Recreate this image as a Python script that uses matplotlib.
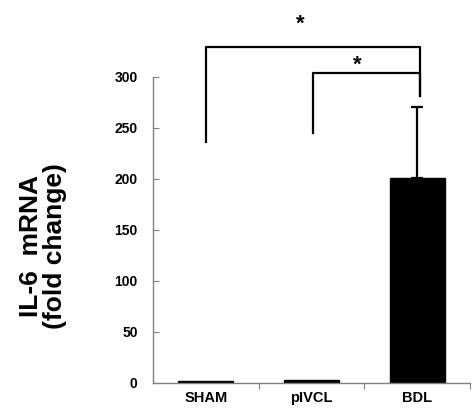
import matplotlib.pyplot as plt

groups = ['SHAM', 'pIVCL', 'BDL']
il6_fold = [1.5, 2.5, 201]
il6_err = [0, 0, 69]
yticks = [0, 50, 100, 150, 200, 250, 300]

plt.rcParams['font.family'] = ['Liberation Sans', 'DejaVu Sans']
plt.rcParams['font.weight'] = 'bold'

fig = plt.figure(figsize=(4.72, 4.12), dpi=100)
ax = fig.add_axes([0.324, 0.0704, 0.672, 0.743])

x = list(range(len(groups)))
ax.bar(x, il6_fold, width=0.52, color='black', edgecolor='black', zorder=2)
# one-sided error bar on BDL
ax.errorbar(x[2], il6_fold[2], yerr=[[0], [il6_err[2]]], fmt='none',
            ecolor='black', elinewidth=1.6, capsize=4, capthick=1.6, zorder=1)

ax.set_xlim(-0.5, 2.5)
ax.set_ylim(0, 300)
ax.set_yticks(yticks)
ax.set_xticks([0.5, 1.5, 2.5], minor=False)
ax.set_xticklabels([])
ax.set_xticks(x, minor=True)
ax.set_xticklabels(groups, minor=True, fontsize=10.5, fontweight='bold')
ax.tick_params(axis='x', which='minor', length=0, pad=6)
ax.tick_params(axis='x', which='major', direction='out', length=4, color='#808080')
ax.tick_params(axis='y', direction='in', length=4, color='#808080', labelsize=10, pad=11)

for s in ['top', 'right']:
    ax.spines[s].set_visible(False)
for s in ['left', 'bottom']:
    ax.spines[s].set_color('#808080')
    ax.spines[s].set_linewidth(1.0)

fig.text(43 / 472, 1 - 246 / 412, 'IL-6  mRNA\n(fold change)', rotation=90,
         ha='center', va='center', fontsize=19, fontweight='bold',
         linespacing=1.0, multialignment='center')

# significance brackets
lw = 1.6
ax.plot([0, 0, 2.03, 2.03], [236, 329, 329, 281], color='black', lw=lw, clip_on=False)
ax.plot([1.01, 1.01, 2.03, 2.03], [245, 304, 304, 281], color='black', lw=lw, clip_on=False)
ax.text(0.89, 352, '*', ha='center', va='center', fontsize=16, fontweight='bold')
ax.text(1.43, 311, '*', ha='center', va='center', fontsize=16, fontweight='bold')

fig.savefig('out.png', dpi=100)
